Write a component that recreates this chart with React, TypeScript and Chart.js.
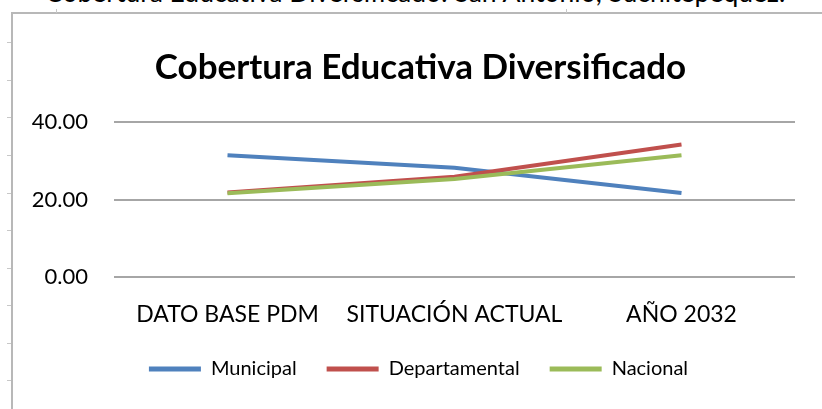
import React, { useEffect, useRef } from "react";
import { Chart, registerables } from "chart.js";

Chart.register(...registerables);

const pageCaption = "Cobertura Educativa Diversificado: San Antonio, Suchitepequez.";
const chartTitle = "Cobertura Educativa Diversificado";
const categories = ["DATO BASE PDM", "SITUACIÓN ACTUAL", "AÑO 2032"];
const seriesNames = ["Municipal", "Departamental", "Nacional"];
const municipal = [31.4, 28.2, 21.7];
const departamental = [21.8, 25.9, 34.2];
const nacional = [21.6, 25.3, 31.4];
const seriesColors = ["#4F81BD", "#C0504D", "#9BBB59"];
const yMin = 0;
const yMax = 40;
const yStep = 20;

const leftRulerMarks = [42, 80, 117, 155, 193, 230, 268, 305, 343, 380];
const topRulerMarks = [56, 566];

const FONT = "Lato, 'Open Sans', sans-serif";

const shiftBlocks = {
  id: "shiftBlocks",
  afterLayout(chart: any) {
    if (chart.legend) chart.legend.left += 22;
    if (chart.titleBlock) chart.titleBlock.left += 26;
  },
};

export default function App() {
  const canvasRef = useRef<HTMLCanvasElement | null>(null);

  useEffect(() => {
    const canvas = canvasRef.current;
    if (!canvas) return;
    const values = [municipal, departamental, nacional];
    const chart = new Chart(canvas, {
      type: "line",
      data: {
        labels: categories,
        datasets: seriesNames.map((name, i) => ({
          label: name,
          data: values[i],
          borderColor: seriesColors[i],
          backgroundColor: seriesColors[i],
          borderWidth: 4,
          pointRadius: 0,
          pointHoverRadius: 0,
          tension: 0,
          fill: false,
          order: 2 - i,
        })),
      },
      plugins: [shiftBlocks],
      options: {
        animation: false,
        responsive: false,
        maintainAspectRatio: false,
        events: [],
        layout: { padding: { left: 20, right: 27, top: 0, bottom: 20 } },
        plugins: {
          title: {
            display: true,
            text: chartTitle,
            color: "#000",
            font: { family: FONT, size: 35, weight: "bold", lineHeight: 1.2 },
            padding: { top: 47, bottom: 33 },
          },
          legend: {
            position: "bottom",
            labels: {
              color: "#000",
              font: { family: FONT, size: 20 },
              boxWidth: 52,
              boxHeight: 5,
              padding: 30,
              generateLabels: (c: any) => {
                const items = Chart.defaults.plugins.legend.labels.generateLabels(c);
                return items
                  .sort((a: any, b: any) => a.datasetIndex - b.datasetIndex)
                  .map((it: any) => ({ ...it, lineWidth: 0, fillStyle: it.strokeStyle }));
              },
            },
          },
          tooltip: { enabled: false },
        },
        scales: {
          x: {
            offset: true,
            grid: { display: false, drawTicks: false },
            border: { display: false },
            ticks: { padding: 24, color: "#000", font: { family: FONT, size: 23 } },
            afterFit: (s: any) => {
              s.height = 52;
            },
          },
          y: {
            min: yMin,
            max: yMax,
            grid: { color: "#a6a6a6", lineWidth: 2, drawTicks: false },
            border: { display: false },
            ticks: {
              stepSize: yStep,
              padding: 26,
              color: "#000",
              font: { family: FONT, size: 22 },
              callback: (v: any) => Number(v).toFixed(2),
            },
            afterFit: (s: any) => {
              s.width = 94;
            },
          },
        },
      },
    });
    return () => chart.destroy();
  }, []);

  return (
    <div
      style={{
        position: "fixed",
        left: 0,
        top: 0,
        width: 822,
        height: 409,
        overflow: "hidden",
        background: "#fff",
      }}
    >
      <div
        style={{
          position: "absolute",
          left: 45,
          top: -20,
          fontFamily: FONT,
          fontSize: 26.5,
          lineHeight: "25px",
          color: "#000",
          whiteSpace: "nowrap",
        }}
      >
        {pageCaption}
      </div>
      <div
        style={{
          position: "absolute",
          left: 11,
          top: 12,
          width: 830,
          height: 420,
          borderLeft: "2px solid #b8b8b8",
          borderTop: "2px solid #b8b8b8",
        }}
      />
      {leftRulerMarks.map((y) => (
        <div
          key={"l" + y}
          style={{ position: "absolute", left: 7, top: y, width: 4, height: 1, background: "#c8c8c8" }}
        />
      ))}
      {topRulerMarks.map((x) => (
        <div
          key={"t" + x}
          style={{ position: "absolute", left: x, top: 9, width: 1, height: 4, background: "#c8c8c8" }}
        />
      ))}
      <canvas
        ref={canvasRef}
        width={822}
        height={409}
        style={{ position: "absolute", left: 0, top: 0, width: 822, height: 409 }}
      />
    </div>
  );
}
